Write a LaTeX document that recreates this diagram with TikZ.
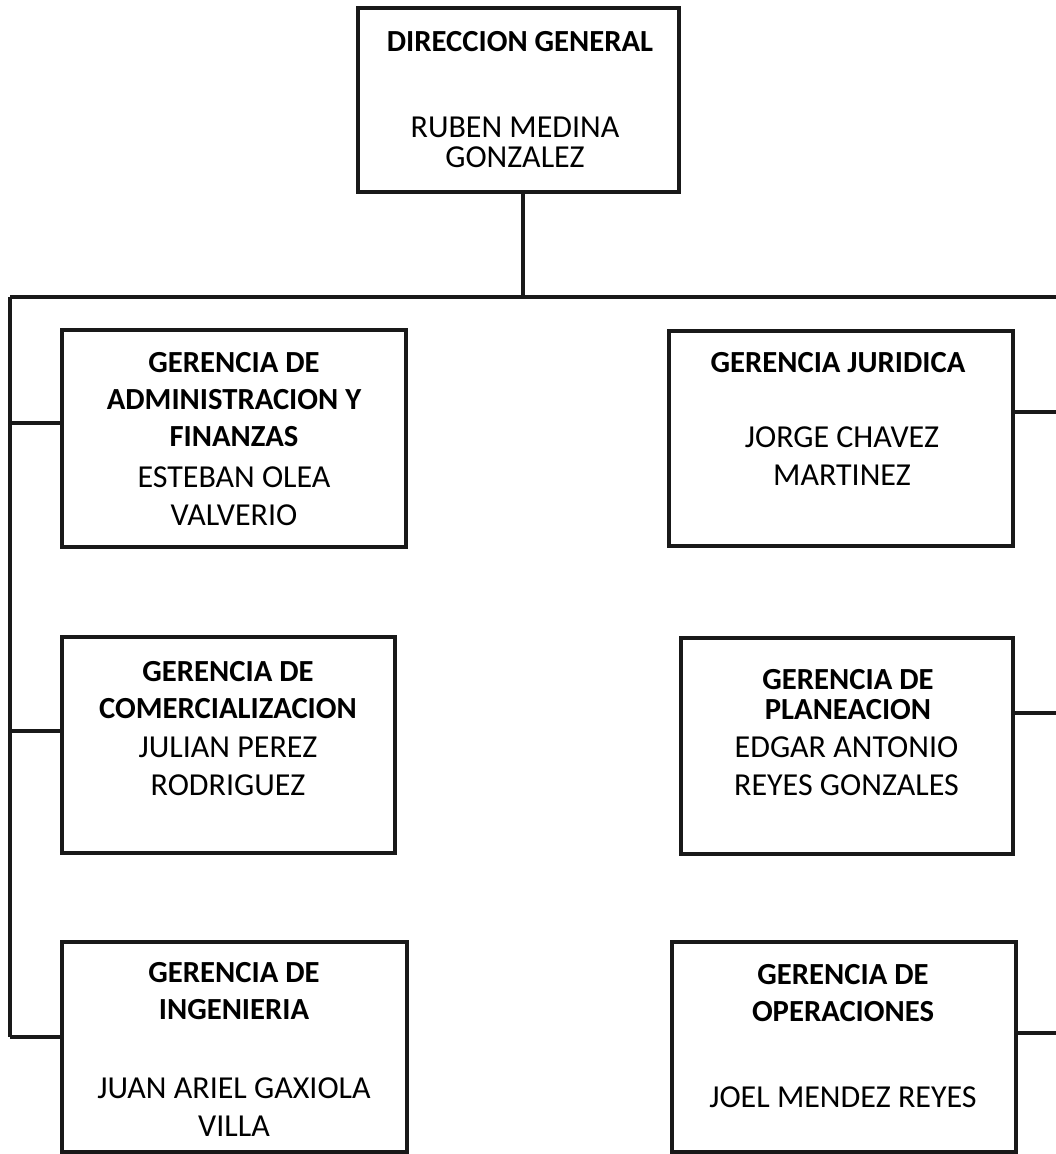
\documentclass[tikz,border=0pt]{standalone}
\usepackage{fontspec}
\setmainfont{Carlito}
\begin{document}
\begin{tikzpicture}[x=0.75pt,y=-0.75pt,
  bx/.style 2 args={draw=black!90, line width=2.3pt, minimum width=#1*0.75pt, minimum height=#2*0.75pt, inner sep=0pt},
  ttl/.style={align=center, inner sep=0pt, font=\fontsize{23}{27.75}\selectfont\bfseries},
  nm/.style={align=center, inner sep=0pt, font=\fontsize{24}{28.5}\selectfont},
  conn/.style={draw=black!90, line width=2.3pt}]
\useasboundingbox (0,0) rectangle (1056,1154);
% boxes
\node[bx={321}{184}] (top) at (518.5,100) {};
\node[bx={344}{217}] (adm) at (234,438.5) {};
\node[bx={344}{215}] (jur) at (841,438.5) {};
\node[bx={333}{216}] (com) at (228.5,745) {};
\node[bx={332}{216}] (pla) at (847,746) {};
\node[bx={345}{210}] (ing) at (234.5,1047) {};
\node[bx={344}{210}] (ope) at (844,1047) {};
% texts
\node[ttl] (topT) at (520,42) {DIRECCION GENERAL};
\node[nm, font=\fontsize{24}{22.5}\selectfont] (topN) at (515,142.5) {RUBEN MEDINA\\GONZALEZ};
\node[ttl] (admT) at (234,400) {GERENCIA DE\\ADMINISTRACION Y\\FINANZAS};
\node[nm] (admN) at (234,496) {ESTEBAN OLEA\\VALVERIO};
\node[ttl] (jurT) at (838,363) {GERENCIA JURIDICA};
\node[nm] (jurN) at (842,456.5) {JORGE CHAVEZ\\MARTINEZ};
\node[ttl] (comT) at (228,690) {GERENCIA DE\\COMERCIALIZACION};
\node[nm] (comN) at (228,766) {JULIAN PEREZ\\RODRIGUEZ};
\node[ttl, font=\fontsize{23}{22.5}\selectfont\bfseries] (plaT) at (848,695) {GERENCIA DE\\PLANEACION};
\node[nm] (plaN) at (846.5,766.5) {EDGAR ANTONIO\\REYES GONZALES};
\node[ttl] (ingT) at (234,991.5) {GERENCIA DE\\INGENIERIA};
\node[nm] (ingN) at (234,1107.5) {JUAN ARIEL GAXIOLA\\VILLA};
\node[ttl] (opeT) at (843,993.5) {GERENCIA DE\\OPERACIONES};
\node[nm] (opeN) at (843,1097) {JOEL MENDEZ REYES};
% connector coordinates
\coordinate (bus) at (523,297);
\coordinate (busL) at (10,297);
\coordinate (busR) at (1056,297);
\coordinate (lA) at (10,423);
\coordinate (lC) at (10,731);
\coordinate (lI) at (10,1037);
\coordinate (rJ) at (1056,412);
\coordinate (rP) at (1056,713);
\coordinate (rO) at (1056,1033);
% connectors
\draw[conn] (top.south -| bus) -- (bus);
\draw[conn] (busL) -- (busR);
\draw[conn] (busL) -- (lI);
\draw[conn] (lA) -- (lA -| adm.west);
\draw[conn] (lC) -- (lC -| com.west);
\draw[conn] (lI) -- (lI -| ing.west);
\draw[conn] (rJ -| jur.east) -- (rJ);
\draw[conn] (rP -| pla.east) -- (rP);
\draw[conn] (rO -| ope.east) -- (rO);
\end{tikzpicture}
\end{document}
